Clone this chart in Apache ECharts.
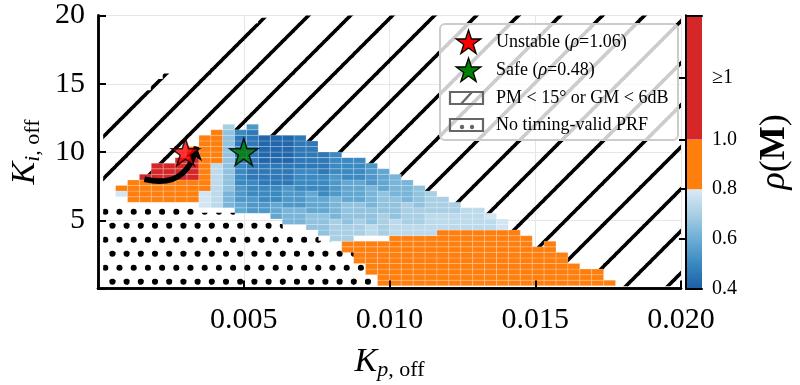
<!DOCTYPE html>
<html>
<head>
<meta charset="utf-8">
<script src="https://cdn.jsdelivr.net/npm/echarts@6/dist/echarts.min.js"></script>
<style>
  html, body { margin: 0; background: #fff; }
  #chart { width: 800px; height: 385px; }
</style>
</head>
<body>
<div id="chart"></div>
<script>
// scan grid: Kp and Ki sample points (49 x 49)
const kpGrid = [0.0004, 0.000808, 0.001217, 0.001625, 0.002033, 0.002442, 0.00285, 0.003258, 0.003667, 0.004075,
  0.004483, 0.004892, 0.0053, 0.005708, 0.006117, 0.006525, 0.006933, 0.007342, 0.00775, 0.008158,
  0.008567, 0.008975, 0.009383, 0.009792, 0.0102, 0.010608, 0.011017, 0.011425, 0.011833, 0.012242,
  0.01265, 0.013058, 0.013467, 0.013875, 0.014283, 0.014692, 0.0151, 0.015508, 0.015917, 0.016325,
  0.016733, 0.017142, 0.01755, 0.017958, 0.018367, 0.018775, 0.019183, 0.019592, 0.02];
const kiGrid = [0.4, 0.808, 1.217, 1.625, 2.033, 2.442, 2.85, 3.258, 3.667, 4.075,
  4.483, 4.892, 5.3, 5.708, 6.117, 6.525, 6.933, 7.342, 7.75, 8.158,
  8.567, 8.975, 9.383, 9.792, 10.2, 10.608, 11.017, 11.425, 11.833, 12.242,
  12.65, 13.058, 13.467, 13.875, 14.283, 14.692, 15.1, 15.508, 15.917, 16.325,
  16.733, 17.142, 17.55, 17.958, 18.367, 18.775, 19.183, 19.592, 20];

// one string per Kp column, runs from Ki low to high
// '.' no valid PRF, 'h' PM/GM fail, '_' empty, 'O' 0.8-1, 'R' >=1, digit d -> rho = 0.42 + 0.04 d
const columnRuns = [
  '.*14 _*4 h*13',
  '.*14 _*2 9 O h*15',
  '.*14 _ O*4 h*15',
  '.*14 _ O*4 R h*15',
  '.*14 _ O*4 R*3 h*15',
  '.*14 _ O*4 R*3 h*16',
  '.*14 _ O*4 R*4 h*16',
  '.*14 _ O*4 R*5 O h*16',
  '.*13 _ 9*3 O*10 h*15',
  '.*13 _ 8*8 O*6 h*15',
  '.*13 _ 5*3 6*11 7 h*16',
  '.*12 _ 4*2 3*3 2*4 1*5 2 h*18',
  '.*12 _ 3*3 2*3 1*9 3 h*18',
  '.*12 _ 3*2 2*3 1*4 0*5 h*21',
  '.*11 _ 4*3 2*3 1*4 0*5 h*22',
  '.*10 _ 5*3 3*4 1*4 0*5 h*22',
  '.*10 _ 5*3 3*3 2*4 1*6 h*22',
  '.*9 _ 6*3 4*4 2*4 1*5 h*23',
  '.*8 _ 6*4 4*3 2*4 1*4 h*25',
  '.*7 _ 7*4 5*4 3*4 2*4 h*25',
  '.*6 O*2 7*3 6*4 4*4 2*4 h*26',
  '.*4 O*4 _ 7*3 6*3 4*4 2*4 h*26',
  '.*2 O*6 _ 8*2 6*3 5*4 3*4 h*27',
  'O*8 _ 7*4 6*4 4*4 h*28',
  'O*9 8*3 6*4 5*4 h*29',
  'O*9 8*2 7*4 5*4 h*30',
  'O*9 8*2 7*3 6*4 h*31',
  'O*9 8*4 7*4 h*32',
  'O*10 8*3 7*3 h*33',
  'O*10 8*3 7*2 h*34',
  'O*10 8*4 h*35',
  'O*10 8*4 h*35',
  'O*10 8*2 9 h*36',
  'O*10 9*2 h*37',
  'O*10 h*39',
  'O*9 h*40',
  'O*7 h*42',
  'O*8 h*41',
  'O*6 h*43',
  'O*4 h*45',
  'O*3 h*46',
  'O*3 h*46',
  'O h*48',
  'h*49', 'h*49', 'h*49', 'h*49', 'h*49', 'h*49'
];

const unstablePoint = [0.003, 10];
const safePoint = [0.005, 10];
const arrowPath = [[0.00159, 8.0], [0.00338, 10.4]];

const xTicks = [0.005, 0.010, 0.015, 0.020];
const yTicks = [5, 10, 15, 20];
const cbLabels = [0.4, 0.6, 0.8, 1.0, 1.25];
const colorbarBands = [[0.4, 0.8, 'blues'], [0.8, 1.0, '#ff7f0e'], [1.0, 1.5, '#d62728']];

const serif = "'Liberation Serif', 'DejaVu Serif', serif";
const blueStops = [[0.4, [28, 95, 167]], [0.5, [58, 137, 193]], [0.6, [108, 174, 214]], [0.7, [169, 207, 229]], [0.8, [220, 234, 246]]];

function expandRuns(str) {
  let out = '';
  str.split(' ').forEach(tok => {
    const [ch, n] = tok.split('*');
    out += ch.repeat(n ? +n : 1);
  });
  return out;
}

function rhoColor(v) {
  if (v >= 1) return '#d62728';
  if (v >= 0.8) return '#ff7f0e';
  for (let i = 1; i < blueStops.length; i++) {
    if (v <= blueStops[i][0]) {
      const a = blueStops[i - 1], b = blueStops[i];
      const t = (v - a[0]) / (b[0] - a[0]);
      const c = a[1].map((x, k) => Math.round(x + (b[1][k] - x) * t));
      return 'rgb(' + c.join(',') + ')';
    }
  }
  return 'rgb(220,234,246)';
}

const cellW = kpGrid[1] - kpGrid[0];
const cellH = kiGrid[1] - kiGrid[0];
const rhoCells = [], hatchCells = [], dotCells = [];
columnRuns.forEach((runs, c) => {
  const codes = expandRuns(runs);
  kiGrid.forEach((ki, r) => {
    const ch = codes[r] || '_';
    const kp = kpGrid[c];
    if (ch === 'h') hatchCells.push([kp, ki]);
    else if (ch === '.') dotCells.push([kp, ki]);
    else if (ch === 'O') rhoCells.push([kp, ki, 0.9]);
    else if (ch === 'R') rhoCells.push([kp, ki, 1.06]);
    else if (ch >= '0' && ch <= '9') rhoCells.push([kp, ki, 0.42 + 0.04 * (+ch)]);
  });
});

// fill patterns
function makeHatch() {
  const S = 42, phase = 30;
  const cv = document.createElement('canvas');
  cv.width = S; cv.height = S;
  const g = cv.getContext('2d');
  g.strokeStyle = '#000'; g.lineWidth = 3.5;
  for (let o = phase - 2 * S; o <= 3 * S; o += S) {
    g.beginPath();
    g.moveTo(-10, o + 10);
    g.lineTo(S + 10, o - S - 10);
    g.stroke();
  }
  return { image: cv, repeat: 'repeat' };
}
function makeDots() {
  const W = 71, H = 28;
  const cv = document.createElement('canvas');
  cv.width = W; cv.height = H;
  const g = cv.getContext('2d');
  g.fillStyle = '#000';
  const pts = [];
  for (let k = 0; k < 5; k++) {
    pts.push([5.9 + 14.2 * k, 15.7]);
    pts.push([13.0 + 14.2 * k, 1.7]);
  }
  pts.forEach(p => {
    [-W, 0, W].forEach(dx => [-H, 0, H].forEach(dy => {
      g.beginPath(); g.arc(p[0] + dx, p[1] + dy, 3.0, 0, Math.PI * 2); g.fill();
    }));
  });
  return { image: cv, repeat: 'repeat' };
}
const hatchFill = makeHatch();
const dotFill = makeDots();

function patternCell(fill) {
  return function (params, api) {
    const p = api.coord([api.value(0), api.value(1)]);
    const s = api.size([cellW, cellH]);
    return {
      type: 'rect',
      shape: { x: p[0] - s[0] / 2 - 0.5, y: p[1] - s[1] / 2 - 0.5, width: s[0] + 1, height: s[1] + 1 },
      style: { fill: fill }
    };
  };
}

const STAR = 'M100 0L122.45 69.1L195.11 69.1L136.33 111.8L158.78 180.9L100 138.2L41.22 180.9L63.67 111.8L4.89 69.1L77.55 69.1Z';
function starPoints(cx, cy, R) {
  const pts = [];
  for (let i = 0; i < 10; i++) {
    const a = -Math.PI / 2 + i * Math.PI / 5;
    const rr = i % 2 ? R * 0.382 : R;
    pts.push([cx + rr * Math.cos(a), cy + rr * Math.sin(a)]);
  }
  return pts;
}

const frameLine = { show: true, lineStyle: { color: '#000', width: 2.5 } };
const noTick = { show: false };
const noLabel = { show: false };
const noSplit = { show: false };
const cbGradient = {
  type: 'linear', x: 0, y: 0, x2: 0, y2: 1,
  colorStops: blueStops.slice().reverse().map((s, i) => ({ offset: i / (blueStops.length - 1), color: 'rgb(' + s[1].join(',') + ')' }))
};
const nameRich = {
  k: { fontFamily: serif, fontStyle: 'italic', fontSize: 34, lineHeight: 38, color: '#000' },
  sp: { fontFamily: serif, fontStyle: 'italic', fontSize: 22, lineHeight: 24, verticalAlign: 'bottom', color: '#000' },
  s: { fontFamily: serif, fontSize: 22, lineHeight: 24, verticalAlign: 'bottom', color: '#000' }
};

const chart = echarts.init(document.getElementById('chart'), null, { renderer: 'canvas' });
chart.setOption({
  animation: false,
  backgroundColor: '#fff',
  grid: [
    { left: 98, right: 119, top: 15.5, bottom: 96.5, outerBoundsMode: 'none', containLabel: false },
    { left: 686, width: 16, top: 15.5, bottom: 96.5, outerBoundsMode: 'none', containLabel: false }
  ],
  xAxis: [
    {
      type: 'value', gridIndex: 0, position: 'bottom', min: 0, max: 0.02, interval: 0.005, z: 3,
      axisLine: frameLine,
      axisTick: { inside: true, length: 8, lineStyle: { color: '#000', width: 2 } },
      axisLabel: {
        formatter: v => (xTicks.some(t => Math.abs(t - v) < 1e-9) ? v.toFixed(3) : ''),
        fontFamily: serif, fontSize: 30, color: '#000', margin: 17
      },
      splitLine: noSplit,
      name: '{k|K}{sp|p}{s|, off}',
      nameLocation: 'middle', nameGap: 55,
      nameTextStyle: { rich: nameRich }
    },
    { type: 'value', gridIndex: 0, position: 'top', min: 0, max: 0.02, z: 3, axisLine: frameLine, axisTick: noTick, axisLabel: noLabel, splitLine: noSplit },
    {
      type: 'value', gridIndex: 0, position: 'bottom', min: 0, max: 0.02, interval: 0.005, z: 0,
      axisLine: { show: false }, axisTick: noTick, axisLabel: noLabel,
      splitLine: { show: true, lineStyle: { color: '#e6e6e6', width: 1 } }
    },
    { type: 'value', gridIndex: 1, position: 'bottom', min: 0, max: 1, z: 3, axisLine: { show: true, lineStyle: { color: '#000', width: 2 } }, axisTick: noTick, axisLabel: noLabel, splitLine: noSplit },
    { type: 'value', gridIndex: 1, position: 'top', min: 0, max: 1, z: 3, axisLine: { show: true, lineStyle: { color: '#000', width: 2 } }, axisTick: noTick, axisLabel: noLabel, splitLine: noSplit }
  ],
  yAxis: [
    {
      type: 'value', gridIndex: 0, position: 'left', min: 0, max: 20, interval: 5, z: 3,
      axisLine: frameLine,
      axisTick: { inside: true, length: 8, lineStyle: { color: '#000', width: 2 } },
      axisLabel: {
        formatter: v => (yTicks.indexOf(v) >= 0 ? String(v) : ''),
        fontFamily: serif, fontSize: 30, color: '#000', margin: 13
      },
      splitLine: noSplit,
      name: '{k|K}{sp|i}{s|, off}',
      nameLocation: 'middle', nameGap: 41,
      nameTextStyle: { rich: nameRich }
    },
    { type: 'value', gridIndex: 0, position: 'right', min: 0, max: 20, z: 3, axisLine: frameLine, axisTick: noTick, axisLabel: noLabel, splitLine: noSplit },
    {
      type: 'value', gridIndex: 0, position: 'left', min: 0, max: 20, interval: 5, z: 0,
      axisLine: { show: false }, axisTick: noTick, axisLabel: noLabel,
      splitLine: { show: true, lineStyle: { color: '#e6e6e6', width: 1 } }
    },
    { type: 'value', gridIndex: 1, position: 'left', min: 0.4, max: 1.5, z: 3, axisLine: { show: true, lineStyle: { color: '#000', width: 2 } }, axisTick: noTick, axisLabel: noLabel, splitLine: noSplit },
    {
      type: 'value', gridIndex: 1, position: 'right', min: 0.4, max: 1.5, z: 3,
      axisLine: { show: true, lineStyle: { color: '#000', width: 2 } },
      axisTick: { show: true, inside: true, length: 7, customValues: [0.6, 0.8, 1.0, 1.25], lineStyle: { color: '#000', width: 2 } },
      axisLabel: {
        customValues: cbLabels,
        formatter: v => (v > 1.1 ? '≥1' : v.toFixed(1)),
        fontFamily: serif, fontSize: 20, color: '#000', margin: 10
      },
      splitLine: noSplit,
      name: '{r|ρ}{p|(}{m|M}{p|)}',
      nameLocation: 'middle', nameGap: 55, nameMoveOverlap: false,
      nameTextStyle: {
        rich: {
          r: { fontFamily: serif, fontStyle: 'italic', fontSize: 36, color: '#000' },
          p: { fontFamily: serif, fontSize: 36, color: '#000' },
          m: { fontFamily: serif, fontWeight: 'bold', fontSize: 36, color: '#000' }
        }
      }
    }
  ],
  series: [
    {
      name: 'hatch', type: 'custom', xAxisIndex: 0, yAxisIndex: 0, clip: true, z: 1, silent: true,
      renderItem: patternCell(hatchFill), data: hatchCells
    },
    {
      name: 'dots', type: 'custom', xAxisIndex: 0, yAxisIndex: 0, clip: true, z: 1, silent: true,
      renderItem: patternCell(dotFill), data: dotCells
    },
    {
      name: 'rho', type: 'custom', xAxisIndex: 0, yAxisIndex: 0, clip: true, z: 2, silent: true,
      renderItem: function (params, api) {
        const p = api.coord([api.value(0), api.value(1)]);
        const s = api.size([cellW, cellH]);
        return {
          type: 'rect',
          shape: { x: p[0] - s[0] / 2, y: p[1] - s[1] / 2, width: s[0], height: s[1] },
          style: { fill: rhoColor(api.value(2)), stroke: 'rgba(255,255,255,0.3)', lineWidth: 0.7 }
        };
      },
      data: rhoCells
    },
    {
      name: 'arrow', type: 'lines', coordinateSystem: 'cartesian2d', xAxisIndex: 0, yAxisIndex: 0, z: 4, silent: true,
      symbol: ['none', 'arrow'], symbolSize: 13,
      lineStyle: { color: '#000', width: 5.5, curveness: -0.5, opacity: 1 },
      data: [{ coords: arrowPath }]
    },
    {
      name: 'Unstable', type: 'scatter', xAxisIndex: 0, yAxisIndex: 0, z: 5, silent: true,
      symbol: 'path://' + STAR, symbolSize: [28, 27],
      itemStyle: { color: '#ff0000', borderColor: '#000', borderWidth: 1.5 },
      data: [unstablePoint]
    },
    {
      name: 'Safe', type: 'scatter', xAxisIndex: 0, yAxisIndex: 0, z: 5, silent: true,
      symbol: 'path://' + STAR, symbolSize: [28, 27],
      itemStyle: { color: '#008000', borderColor: '#000', borderWidth: 1.5 },
      data: [safePoint]
    },
    {
      name: 'colorbar', type: 'custom', xAxisIndex: 3, yAxisIndex: 3, z: 2, silent: true,
      renderItem: function (params, api) {
        const band = colorbarBands[params.dataIndex];
        const lo = api.coord([0, band[0]]), hi = api.coord([1, band[1]]);
        return {
          type: 'rect',
          shape: { x: lo[0], y: hi[1], width: hi[0] - lo[0], height: lo[1] - hi[1] },
          style: { fill: band[2] === 'blues' ? cbGradient : band[2] }
        };
      },
      data: colorbarBands.map(b => [0.5, (b[0] + b[1]) / 2])
    }
  ],
  graphic: [
    { type: 'rect', z: 100, shape: { x: 440, y: 24, width: 238, height: 116, r: 5 }, style: { fill: 'rgba(255,255,255,0.8)', stroke: '#cccccc', lineWidth: 2 } },
    { type: 'polygon', z: 101, shape: { points: starPoints(468.5, 43, 13) }, style: { fill: '#ff0000', stroke: '#000', lineWidth: 1.3 } },
    { type: 'polygon', z: 101, shape: { points: starPoints(468.5, 71, 13) }, style: { fill: '#008000', stroke: '#000', lineWidth: 1.3 } },
    { type: 'rect', z: 101, shape: { x: 450, y: 92, width: 33, height: 12 }, style: { fill: 'none', stroke: '#666', lineWidth: 2.2 } },
    { type: 'line', z: 101, shape: { x1: 461, y1: 104, x2: 472, y2: 92 }, style: { stroke: '#666', lineWidth: 2.2 } },
    { type: 'rect', z: 101, shape: { x: 450, y: 119, width: 33, height: 12 }, style: { fill: 'none', stroke: '#666', lineWidth: 2.2 } },
    { type: 'circle', z: 101, shape: { cx: 462, cy: 127, r: 2.2 }, style: { fill: '#666' } },
    { type: 'circle', z: 101, shape: { cx: 472, cy: 127, r: 2.2 }, style: { fill: '#666' } },
    {
      type: 'text', z: 101, x: 496, y: 42,
      style: { text: '{n|Unstable (}{i|ρ}{n|=1.06)}', verticalAlign: 'middle', rich: { n: { fontFamily: serif, fontSize: 18, fill: '#000' }, i: { fontFamily: serif, fontStyle: 'italic', fontSize: 18, fill: '#000' } } }
    },
    {
      type: 'text', z: 101, x: 496, y: 70,
      style: { text: '{n|Safe (}{i|ρ}{n|=0.48)}', verticalAlign: 'middle', rich: { n: { fontFamily: serif, fontSize: 18, fill: '#000' }, i: { fontFamily: serif, fontStyle: 'italic', fontSize: 18, fill: '#000' } } }
    },
    { type: 'text', z: 101, x: 496, y: 98, style: { text: 'PM < 15° or GM < 6dB', verticalAlign: 'middle', fontFamily: serif, fontSize: 18, fill: '#000' } },
    { type: 'text', z: 101, x: 496, y: 125, style: { text: 'No timing-valid PRF', verticalAlign: 'middle', fontFamily: serif, fontSize: 18, fill: '#000' } }
  ]
});
</script>
</body>
</html>
